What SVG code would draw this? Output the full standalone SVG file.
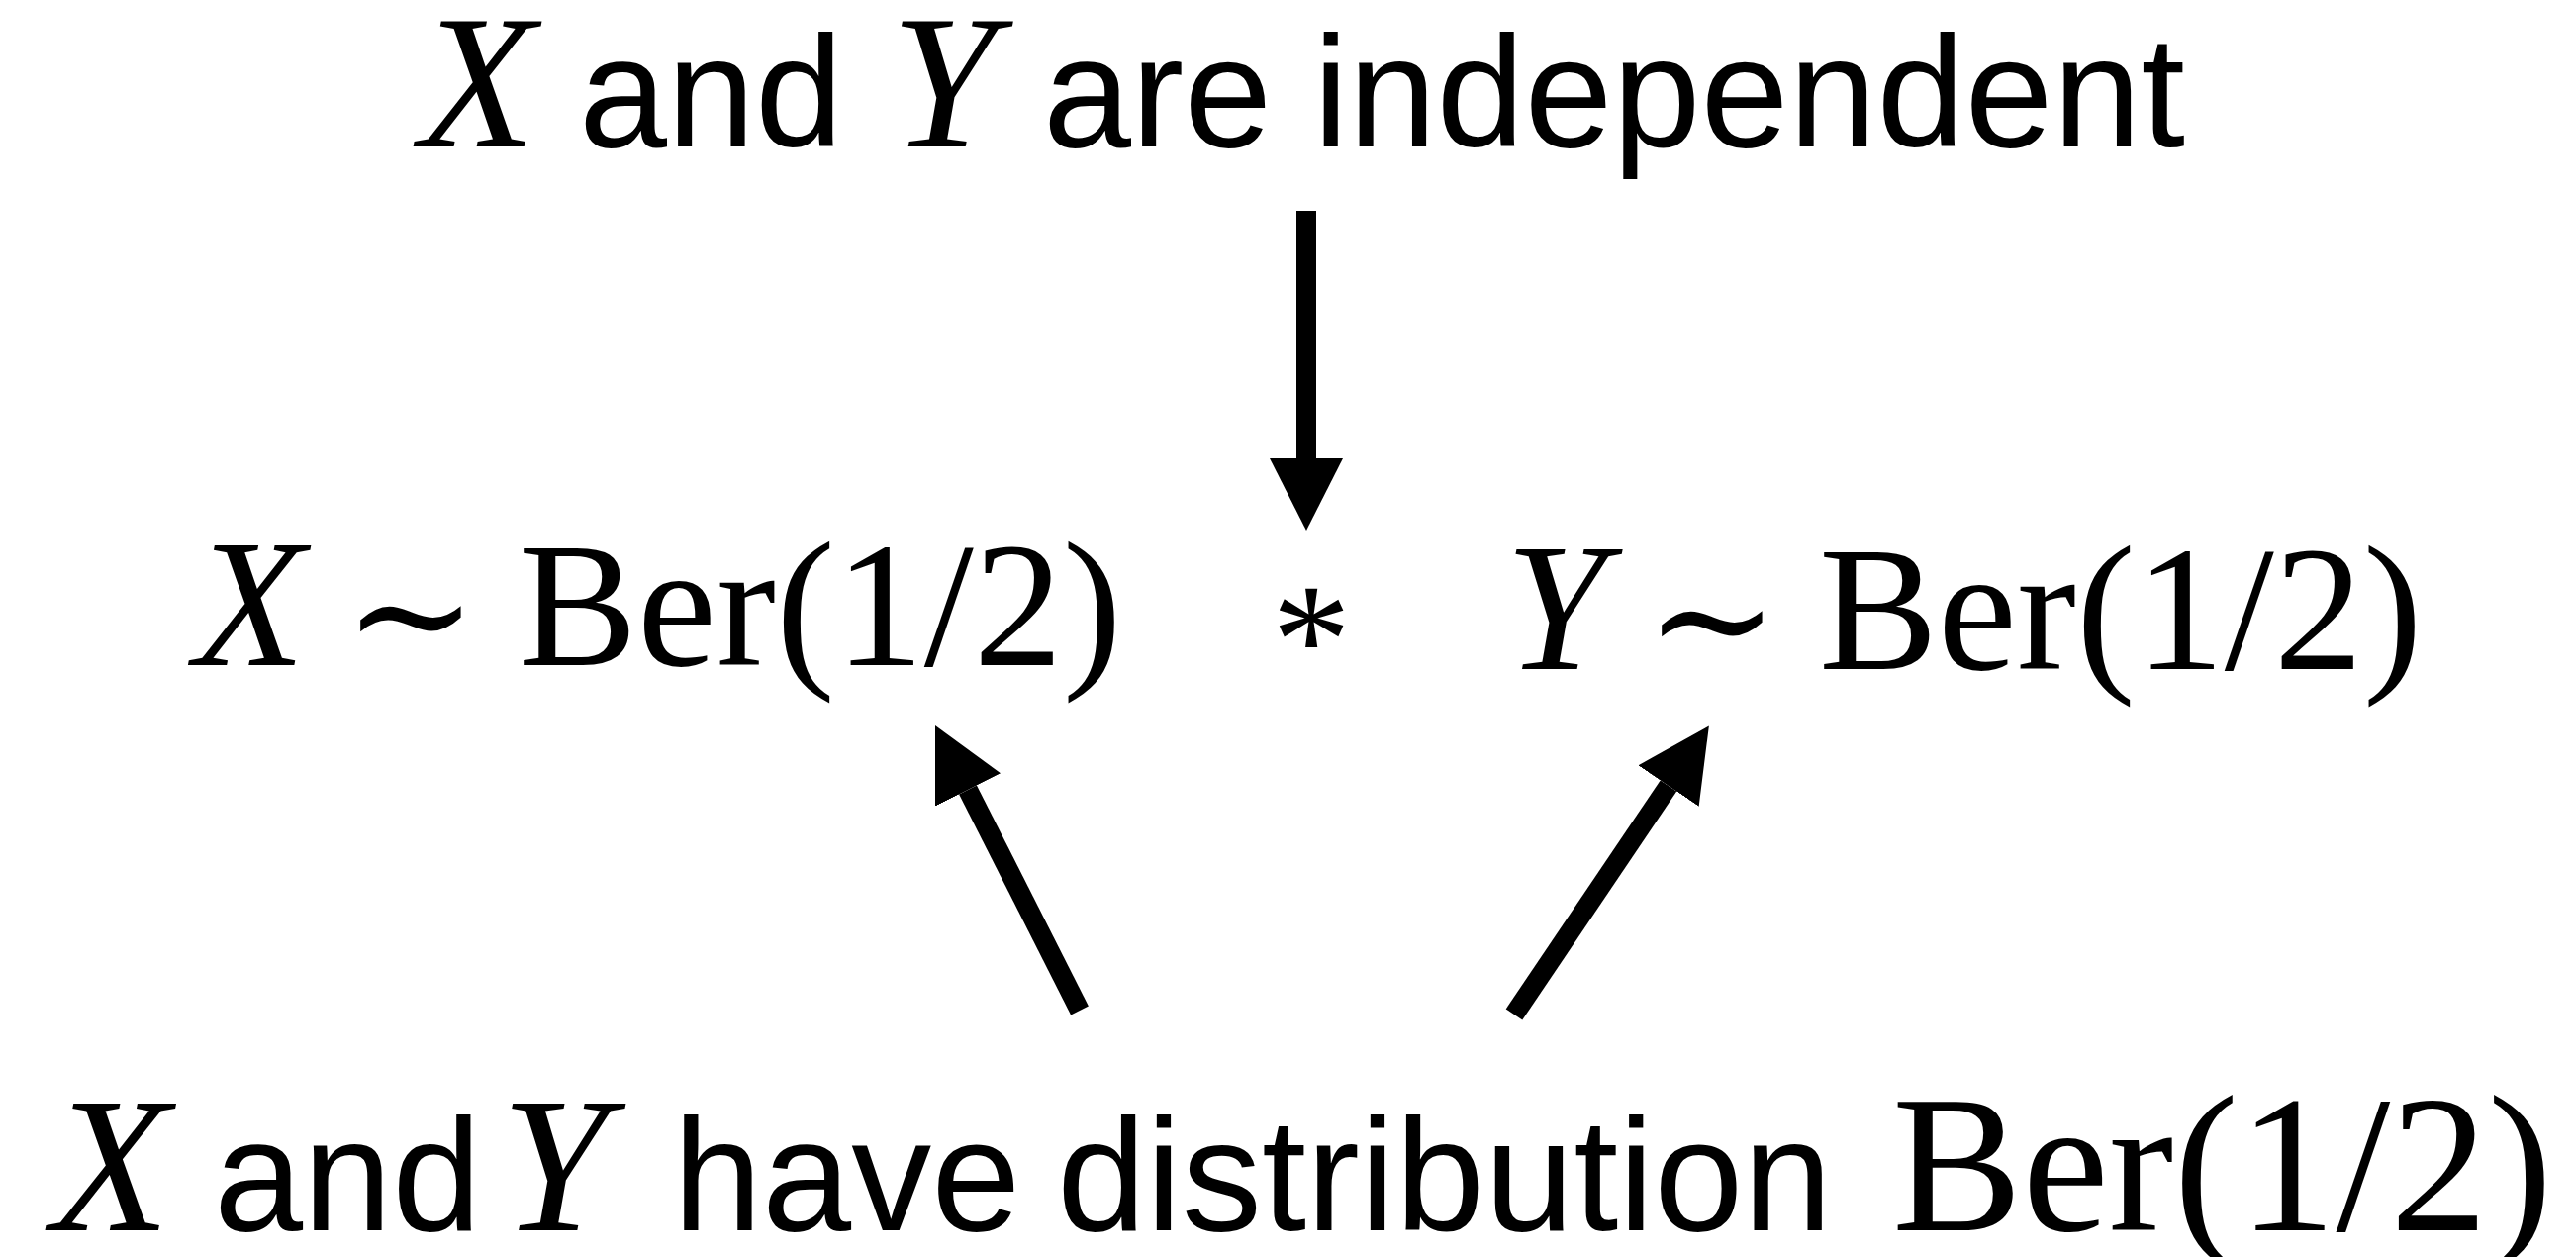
<svg xmlns="http://www.w3.org/2000/svg" width="2603" height="1270" viewBox="0 0 2603 1270">
<style>
.sans{font-family:"Liberation Sans",Arial,sans-serif;fill:#000}
.it{font-family:"Liberation Serif","Times New Roman",serif;font-style:italic;fill:#000}
.rm{font-family:"Liberation Serif","DejaVu Serif","Times New Roman",serif;fill:#000}
.edge{stroke:#000;stroke-width:20;fill:none;marker-end:url(#head)}
</style>
<defs>
<marker id="head" markerUnits="userSpaceOnUse" markerWidth="74" markerHeight="76" refX="0" refY="37" orient="auto" viewBox="0 0 74 76">
<path d="M0,0 L73,37 L0,74 z" fill="#000"/>
</marker>
</defs>
<rect width="2603" height="1270" fill="#fff"/>
<g id="node-independent">
<text y="148" class="sans" font-size="160"><tspan class="it" x="424" font-size="192">X</tspan><tspan x="585">and</tspan><tspan class="it" x="900" font-size="192">Y</tspan><tspan x="1054">are</tspan><tspan x="1327">independent</tspan></text>
</g>
<g id="node-x">
<text y="672" class="rm" font-size="180"><tspan class="it" x="196" font-size="184">X</tspan><tspan x="347" y="676" font-size="162">∼</tspan><tspan x="524" y="672">Ber(1/2)</tspan></text>
</g>
<g id="node-star">
<text x="1325" y="700" class="rm" font-size="160" text-anchor="middle">*</text>
</g>
<g id="node-y">
<text y="676" class="rm" font-size="180"><tspan class="it" x="1521" font-size="184">Y</tspan><tspan x="1662" y="681" font-size="162">∼</tspan><tspan x="1838" y="676">Ber(1/2)</tspan></text>
</g>
<g id="node-distribution">
<text y="1243" class="sans" font-size="162"><tspan class="it" x="52" font-size="196">X</tspan><tspan x="216">and</tspan><tspan class="it" x="506" font-size="196">Y</tspan><tspan x="680">have</tspan><tspan x="1068">distribution</tspan><tspan class="rm" x="1912" font-size="197">Ber(1/2)</tspan></text>
</g>
<g id="connectors">
<line class="edge" x1="1320" y1="213" x2="1320" y2="463"/>
<line class="edge" x1="1091" y1="1021" x2="978" y2="798"/>
<line class="edge" x1="1530" y1="1025" x2="1686" y2="794"/>
</g>
</svg>
